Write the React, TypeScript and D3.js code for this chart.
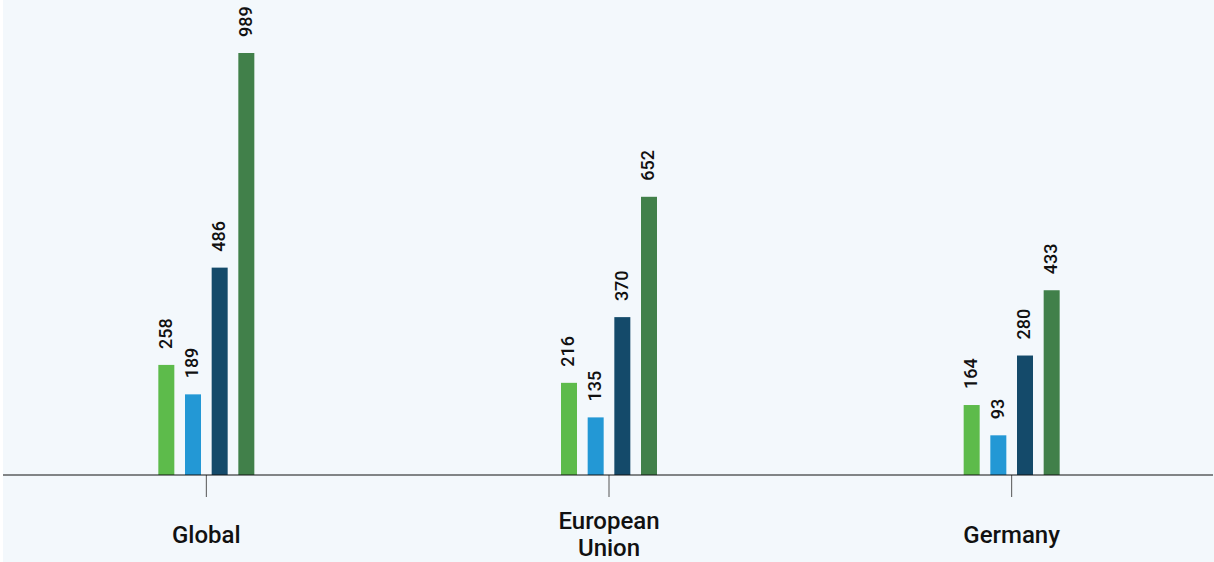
import React from "react";
import * as d3 from "d3";

const categories = ["Global", "European Union", "Germany"];
const categoryLines = [["Global"], ["European", "Union"], ["Germany"]];
const seriesNames = ["S1", "S2", "S3", "S4"];
const series1 = [258, 216, 164];
const series2 = [189, 135, 93];
const series3 = [486, 370, 280];
const series4 = [989, 652, 433];
const seriesColors = ["#5dbb4b", "#2398d5", "#144a6a", "#41804a"];

const W = 1214;
const H = 562;
const baseY = 475;

export default function App() {
  const allSeries = [series1, series2, series3, series4];
  const x = d3.scaleBand<string>().domain(categories).range([4, 1212]).paddingInner(0).paddingOuter(0);
  const y = d3.scaleLinear().domain([0, 989]).range([baseY, 53]);
  const inner = d3.scaleBand<string>().domain(seriesNames).range([-48, 48]).paddingInner(0.4).paddingOuter(0);

  return (
    <svg width={W} height={H} style={{ position: "absolute", left: 0, top: 0 }} fontFamily="Roboto, sans-serif">
      <rect x={3} y={0} width={W - 3} height={H} fill="#f3f8fc" />
      {categories.map((c, ci) => {
        const cx = (x(c) ?? 0) + x.bandwidth() / 2 + 1;
        return (
          <g key={c}>
            {allSeries.map((s, si) => {
              const bx = cx + (inner(seriesNames[si]) ?? 0);
              const by = y(s[ci]);
              const bw = inner.bandwidth();
              return (
                <g key={si}>
                  <rect x={bx} y={by} width={bw} height={baseY - by} fill={seriesColors[si]} />
                  <text
                    transform={`translate(${bx + bw / 2 - 1},${by - 16}) rotate(-90)`}
                    dy="0.35em"
                    fontSize={18}
                    fontWeight={500}
                    fill="#111"
                    textAnchor="start"
                  >
                    {s[ci]}
                  </text>
                </g>
              );
            })}
            <line x1={cx} x2={cx} y1={baseY} y2={497} stroke="#555" strokeWidth={1} />
            {categoryLines[ci].map((t, li) => (
              <text
                key={li}
                x={cx}
                y={categoryLines[ci].length === 1 ? 543 : 529 + li * 27}
                textAnchor="middle"
                fontSize={24}
                fontWeight={500}
                fill="#111"
              >
                {t}
              </text>
            ))}
          </g>
        );
      })}
      <line x1={3} x2={1213} y1={baseY} y2={baseY} stroke="#111" strokeWidth={1.2} />
    </svg>
  );
}
